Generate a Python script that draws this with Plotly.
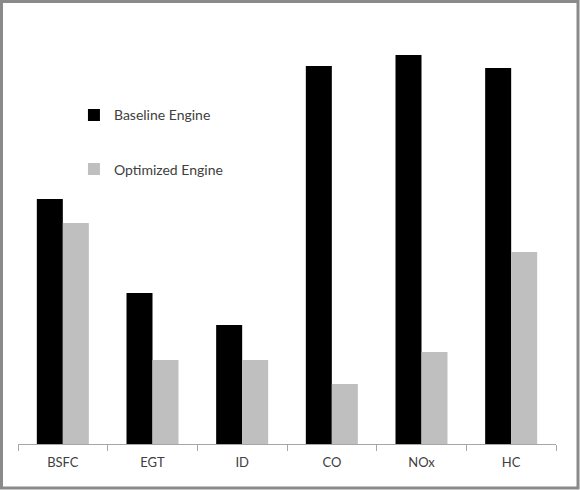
import plotly.graph_objects as go

categories = ["BSFC", "EGT", "ID", "CO", "NOx", "HC"]
baseline = [245, 151, 119, 378, 389, 376]
optimized = [221, 84, 84, 60, 92, 192]

W, H = 580, 490
L, R, T, B = 18, 24, 20, 46
pw, ph = W - L - R, H - T - B

fig = go.Figure()

fig.add_trace(go.Bar(
    x=categories, y=baseline, name="Baseline Engine",
    marker=dict(color="#000000", line=dict(width=0)),
    legendgroup="a"
))
fig.add_trace(go.Bar(
    x=categories, y=optimized, name="Optimized Engine",
    marker=dict(color="#bfbfbf", line=dict(width=0)),
    legendgroup="b"
))

fig.update_layout(
    width=W, height=H,
    margin=dict(l=L, r=R, t=T, b=B),
    plot_bgcolor="white",
    paper_bgcolor="white",
    font=dict(family="Lato", color="#404040", size=13),
    barmode="group",
    bargap=0.42,
    bargroupgap=0,
    legend=dict(
        x=0.104, y=0.813, xanchor="left", yanchor="top",
        bgcolor="rgba(0,0,0,0)",
        tracegroupgap=33,
        font=dict(size=14, color="#404040"),
        itemwidth=30,
    ),
    # grey frame around the whole chart
    shapes=[dict(
        type="rect", xref="paper", yref="paper",
        x0=(1.5 - L) / pw, x1=(578 - L) / pw,
        y0=-(488 - (H - B)) / ph, y1=(H - B - 1.5) / ph,
        line=dict(color="#8a8a8a", width=3),
    )],
)

fig.update_xaxes(
    showline=True, linecolor="#a6a6a6", linewidth=1,
    ticks="outside", tickson="boundaries", ticklen=6, tickcolor="#a6a6a6",
    ticklabelstandoff=6,
    showgrid=False, tickfont=dict(size=13, color="#404040"),
)
fig.update_yaxes(
    visible=False, range=[0, ph], showgrid=False, zeroline=False,
)

fig.write_html(
    "out.html",
    config={"displayModeBar": False},
    post_script="document.body.style.margin='0';",
)
